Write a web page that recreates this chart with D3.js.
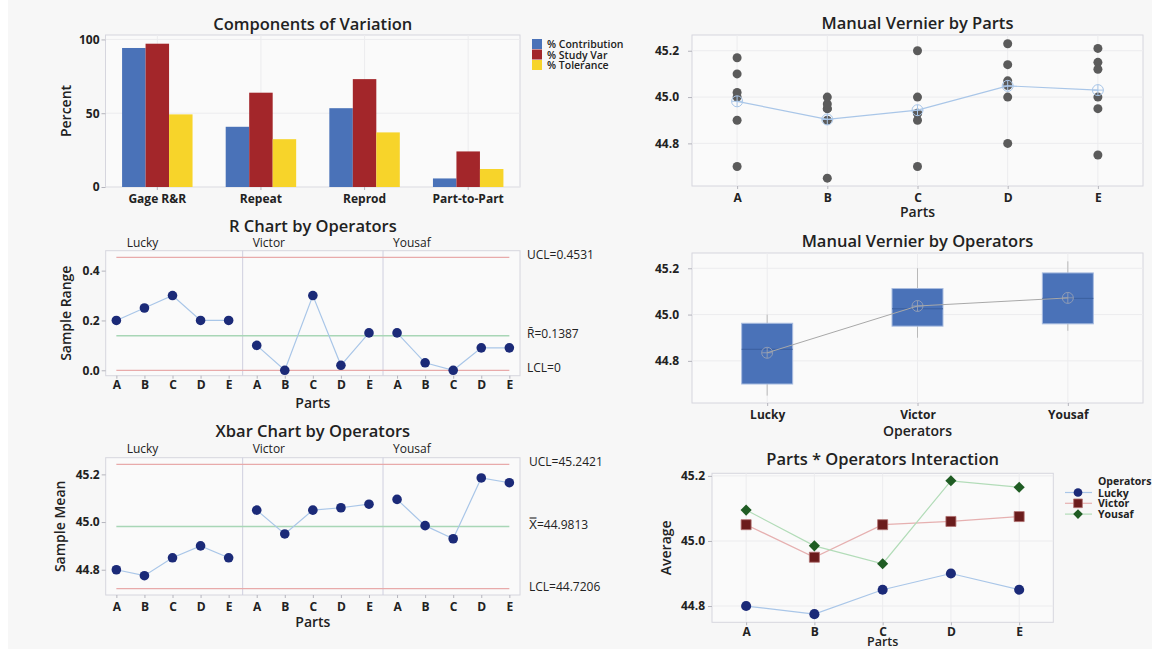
<!DOCTYPE html>
<html>
<head>
<meta charset="utf-8">
<script src="https://cdn.jsdelivr.net/npm/d3@7"></script>
<style>
body { margin: 0; background: #fff; }
svg { display: block; font-family: "Open Sans", sans-serif; }
.axis text { font-family: "Open Sans", sans-serif; font-size: 12px; font-weight: 700; fill: #222; }
.axis line { stroke: #b4b4bc; }
.axis path { display: none; }
.title { font-size: 16.5px; font-weight: 600; fill: #222; text-anchor: middle; }
.axtitle { font-size: 14px; font-weight: 600; fill: #222; text-anchor: middle; }
.lbl { font-size: 12px; fill: #222; }
.leg { font-size: 10.5px; font-weight: 600; fill: #222; }
.leg6 { font-size: 10.5px; font-weight: 700; fill: #222; }
</style>
</head>
<body>
<div id="chart"></div>
<script>
var parts = ["A", "B", "C", "D", "E"];
var operators = ["Lucky", "Victor", "Yousaf"];

// Components of variation
var components = ["Gage R&R", "Repeat", "Reprod", "Part-to-Part"];
var seriesNames = ["% Contribution", "% Study Var", "% Tolerance"];
var pctContribution = [94.2, 40.8, 53.4, 5.8];
var pctStudyVar = [97.1, 63.9, 73.1, 24.1];
var pctTolerance = [49.2, 32.4, 37.0, 12.2];

// measurements, 2 trials per operator, one value per part A..E
var luckyTrial1  = [44.70, 44.65, 44.70, 44.80, 44.75];
var luckyTrial2  = [44.90, 44.90, 45.00, 45.00, 44.95];
var victorTrial1 = [45.00, 44.95, 44.90, 45.05, 45.00];
var victorTrial2 = [45.10, 44.95, 45.20, 45.07, 45.15];
var yousafTrial1 = [45.02, 44.97, 44.93, 45.14, 45.12];
var yousafTrial2 = [45.17, 45.00, 44.93, 45.23, 45.21];

// control limits
var rLimits = [0.4531, 0.1387, 0];
var rLimitLabels = ["UCL=0.4531", "R\u0304=0.1387", "LCL=0"];
var xbarLimits = [45.2421, 44.9813, 44.7206];
var xbarLimitLabels = ["UCL=45.2421", "X\u033F=44.9813", "LCL=44.7206"];

// tick labels
var percentTicks = [0, 50, 100];
var rangeTicks = [0, 0.2, 0.4];
var meanTicks = [44.8, 45.0, 45.2];

var barColors = ["#4a72b8", "#a3262a", "#f7d42a"];
var opColors = ["#1b2a78", "#6b1c1c", "#1f5c23"];
var opLineColors = ["#a9c6e8", "#e6b0b0", "#b2dcb8"];
var limitColors = ["#e8aaaa", "#a8d6b6", "#e8aaaa"];

var w = 1152, h = 650;

var svg = d3.select("#chart").append("svg")
    .attr("width", w)
    .attr("height", h);

svg.append("rect").attr("x", 8).attr("y", 0)
    .attr("width", w - 8).attr("height", 649)
    .attr("fill", "#f7f7f7");

// build subgroups (operator-major, 15 of them)
var trials = [[luckyTrial1, luckyTrial2], [victorTrial1, victorTrial2], [yousafTrial1, yousafTrial2]];
var subgroups = [];
operators.forEach(function(op, i) {
    parts.forEach(function(p, j) {
        var a = trials[i][0][j], b = trials[i][1][j];
        subgroups.push({op: op, oi: i, part: p, pi: j, idx: i * 5 + j,
            vals: [a, b], mean: (a + b) / 2, range: Math.abs(b - a)});
    });
});

function frame(p) {
    svg.append("rect")
        .attr("x", p.l).attr("y", p.t)
        .attr("width", p.r - p.l).attr("height", p.b - p.t)
        .attr("fill", "#fafafa")
        .attr("stroke", "#d6d6de");
}

function title(text, x, y) {
    svg.append("text").attr("class", "title").attr("x", x).attr("y", y).text(text);
}

function axTitle(text, x, y, rotate) {
    var t = svg.append("text").attr("class", "axtitle").text(text);
    if (rotate) t.attr("transform", "translate(" + x + "," + y + ") rotate(-90)");
    else t.attr("x", x).attr("y", y);
    return t;
}

function hGrid(p, y, ticks) {
    svg.append("g").selectAll("line").data(ticks).enter().append("line")
        .attr("x1", p.l).attr("x2", p.r)
        .attr("y1", function(d) { return y(d); })
        .attr("y2", function(d) { return y(d); })
        .attr("stroke", "#ececee");
}

function vGrid(p, xs) {
    svg.append("g").selectAll("line").data(xs).enter().append("line")
        .attr("x1", function(d) { return d; }).attr("x2", function(d) { return d; })
        .attr("y1", p.t).attr("y2", p.b)
        .attr("stroke", "#ececee");
}

function meanSymbol(g, x, y, color) {
    g.append("circle").attr("cx", x).attr("cy", y).attr("r", 5.5)
        .attr("fill", "none").attr("stroke", color);
    g.append("line").attr("x1", x - 5.5).attr("x2", x + 5.5).attr("y1", y).attr("y2", y).attr("stroke", color);
    g.append("line").attr("x1", x).attr("x2", x).attr("y1", y - 5.5).attr("y2", y + 5.5).attr("stroke", color);
}

// ---------- Components of Variation ----------
var p1 = {l: 105.5, r: 520, t: 35, b: 187};
frame(p1);
var xBand = d3.scaleBand().domain(components).range([p1.l, p1.r]).paddingInner(0.32).paddingOuter(0.16);
var xSub = d3.scaleBand().domain(seriesNames).range([0, xBand.bandwidth()]);
var yPct = d3.scaleLinear().domain([0, 103]).range([p1.b, p1.t]);
hGrid(p1, yPct, percentTicks);
vGrid(p1, components.map(function(c) { return xBand(c) + xBand.bandwidth() / 2; }));

var barSeries = [pctContribution, pctStudyVar, pctTolerance];
var groups = svg.append("g").selectAll("g").data(components).enter().append("g")
    .attr("transform", function(d) { return "translate(" + xBand(d) + ",0)"; });
groups.selectAll("rect")
    .data(function(d, i) { return barSeries.map(function(s, k) { return {name: seriesNames[k], value: s[i], k: k}; }); })
    .enter().append("rect")
    .attr("x", function(d) { return xSub(d.name); })
    .attr("width", xSub.bandwidth())
    .attr("y", function(d) { return yPct(d.value); })
    .attr("height", function(d) { return p1.b - yPct(d.value); })
    .attr("fill", function(d) { return barColors[d.k]; });

svg.append("g").attr("class", "axis")
    .attr("transform", "translate(" + p1.l + ",0)")
    .call(d3.axisLeft(yPct).tickValues(percentTicks).tickSize(4).tickPadding(2).tickFormat(d3.format("d")));
svg.append("g").attr("class", "axis")
    .attr("transform", "translate(0," + p1.b + ")")
    .call(d3.axisBottom(xBand).tickSize(3).tickPadding(4));
title("Components of Variation", (p1.l + p1.r) / 2, 30);
axTitle("Percent", 71, 111, true);

var legend = svg.append("g").selectAll("g").data(seriesNames).enter().append("g")
    .attr("transform", function(d, i) { return "translate(532," + (39 + i * 10.5) + ")"; });
legend.append("rect").attr("width", 10).attr("height", 10)
    .attr("fill", function(d, i) { return barColors[i]; });
legend.append("text").attr("class", "leg").attr("x", 15).attr("y", 9).text(function(d) { return d; });

// ---------- Manual Vernier by Parts ----------
var p2 = {l: 692, r: 1143, t: 35, b: 186};
frame(p2);
var xPart2 = d3.scalePoint().domain(parts).range([p2.l, p2.r]).padding(0.5);
var yMeas2 = d3.scaleLinear().domain([44.616, 45.268]).range([p2.b, p2.t]);
hGrid(p2, yMeas2, meanTicks);
vGrid(p2, parts.map(function(p) { return xPart2(p); }));

var allPoints = [];
subgroups.forEach(function(s) {
    s.vals.forEach(function(v) { allPoints.push({part: s.part, value: v}); });
});
svg.append("g").selectAll("circle").data(allPoints).enter().append("circle")
    .attr("cx", function(d) { return xPart2(d.part); })
    .attr("cy", function(d) { return yMeas2(d.value); })
    .attr("r", 4.5)
    .attr("fill", "#5b5b5b");

var partMeans = parts.map(function(p) {
    return {part: p, value: d3.mean(allPoints.filter(function(d) { return d.part === p; }), function(d) { return d.value; })};
});
svg.append("path").datum(partMeans)
    .attr("fill", "none").attr("stroke", "#a9c6e8").attr("stroke-width", 1.2)
    .attr("d", d3.line().x(function(d) { return xPart2(d.part); }).y(function(d) { return yMeas2(d.value); }));
var g2 = svg.append("g");
partMeans.forEach(function(d) { meanSymbol(g2, xPart2(d.part), yMeas2(d.value), "#a9c6e8"); });

svg.append("g").attr("class", "axis")
    .attr("transform", "translate(" + p2.l + ",0)")
    .call(d3.axisLeft(yMeas2).tickValues(meanTicks).tickSize(4).tickPadding(9).tickFormat(d3.format(".1f")));
svg.append("g").attr("class", "axis")
    .attr("transform", "translate(0," + p2.b + ")")
    .call(d3.axisBottom(xPart2).tickSize(3).tickPadding(4));
title("Manual Vernier by Parts", (p2.l + p2.r) / 2, 29);
axTitle("Parts", (p2.l + p2.r) / 2, 217);

// ---------- control charts ----------
function controlChart(p, key, yDomain, ticks, fmt, limits, limitLabels, labelX, opLabelY, yTitle, yTitleX, xlabOffset, partsY) {
    frame(p);
    var x = d3.scaleLinear().domain([-0.38, 14.38]).range([p.l, p.r]);
    var y = d3.scaleLinear().domain(yDomain).range([p.b, p.t]);

    // dividers between operators
    svg.append("g").selectAll("line").data([4.5, 9.5]).enter().append("line")
        .attr("x1", function(d) { return x(d); }).attr("x2", function(d) { return x(d); })
        .attr("y1", p.t).attr("y2", p.b)
        .attr("stroke", "#cfcfdf");

    svg.append("g").selectAll("line").data(limits).enter().append("line")
        .attr("x1", x(0)).attr("x2", x(14))
        .attr("y1", function(d) { return y(d); }).attr("y2", function(d) { return y(d); })
        .attr("stroke", function(d, i) { return limitColors[i]; })
        .attr("stroke-width", 1.3);

    svg.append("g").selectAll("text").data(limits).enter().append("text")
        .attr("class", "lbl")
        .attr("x", labelX)
        .attr("y", function(d) { return y(d) + 2; })
        .text(function(d, i) { return limitLabels[i]; });

    var line = d3.line().x(function(d) { return x(d.idx); }).y(function(d) { return y(d[key]); });
    operators.forEach(function(op) {
        svg.append("path").datum(subgroups.filter(function(s) { return s.op === op; }))
            .attr("fill", "none").attr("stroke", "#a9c6e8").attr("stroke-width", 1.2)
            .attr("d", line);
    });
    svg.append("g").selectAll("circle").data(subgroups).enter().append("circle")
        .attr("cx", function(d) { return x(d.idx); })
        .attr("cy", function(d) { return y(d[key]); })
        .attr("r", 4.8)
        .attr("fill", "#1b2a78");

    var opLabelX = [p.l + 21, x(4.5) + 10, x(9.5) + 10];
    svg.append("g").selectAll("text").data(operators).enter().append("text")
        .attr("class", "lbl")
        .attr("x", function(d, i) { return opLabelX[i]; })
        .attr("y", opLabelY)
        .text(function(d) { return d; });

    svg.append("g").attr("class", "axis")
        .attr("transform", "translate(" + p.l + ",0)")
        .call(d3.axisLeft(y).tickValues(ticks).tickSize(4).tickPadding(2).tickFormat(d3.format(fmt)));
    svg.append("g").attr("class", "axis")
        .attr("transform", "translate(0," + p.b + ")")
        .call(d3.axisBottom(x).tickValues(d3.range(15)).tickSize(3).tickPadding(xlabOffset)
            .tickFormat(function(i) { return parts[i % 5]; }));
    axTitle(yTitle, yTitleX, (p.t + p.b) / 2, true);
    axTitle("Parts", (p.l + p.r) / 2, partsY);
}

var p3 = {l: 105.7, r: 520, t: 250.7, b: 375.7};
controlChart(p3, "range", [-0.0217, 0.480], rangeTicks, ".1f", rLimits, rLimitLabels, 527, 247,
    "Sample Range", 71, 2, 408);
title("R Chart by Operators", (p3.l + p3.r) / 2, 232);

var p5 = {l: 105.7, r: 520, t: 457.7, b: 595};
controlChart(p5, "mean", [44.694, 45.270], meanTicks, ".1f", xbarLimits, xbarLimitLabels, 529, 453,
    "Sample Mean", 65, 4.5, 627);
title("Xbar Chart by Operators", (p5.l + p5.r) / 2, 437);

// ---------- Manual Vernier by Operators ----------
var p4 = {l: 692, r: 1143, t: 253, b: 403};
frame(p4);
var xOp = d3.scalePoint().domain(operators).range([p4.l, p4.r]).padding(0.5);
var yMeas4 = d3.scaleLinear().domain([44.618, 45.266]).range([p4.b, p4.t]);
hGrid(p4, yMeas4, meanTicks);
vGrid(p4, operators.map(function(o) { return xOp(o); }));

// quartiles the way Minitab does them: position (n + 1) * p
function mtbQuantile(sorted, q) {
    var pos = (sorted.length + 1) * q;
    var lo = Math.floor(pos);
    if (lo < 1) return sorted[0];
    if (lo >= sorted.length) return sorted[sorted.length - 1];
    return sorted[lo - 1] + (pos - lo) * (sorted[lo] - sorted[lo - 1]);
}

var boxes = operators.map(function(op) {
    var v = [];
    subgroups.filter(function(s) { return s.op === op; }).forEach(function(s) { v = v.concat(s.vals); });
    v.sort(d3.ascending);
    var q1 = mtbQuantile(v, 0.25), q3 = mtbQuantile(v, 0.75), iqr = q3 - q1;
    var inside = v.filter(function(d) { return d >= q1 - 1.5 * iqr && d <= q3 + 1.5 * iqr; });
    return {op: op, q1: q1, q3: q3, med: mtbQuantile(v, 0.5), mean: d3.mean(v),
        lo: d3.min(inside), hi: d3.max(inside)};
});
var boxW = 51;
var bx = svg.append("g");
bx.selectAll(".whisker").data(boxes).enter().append("line")
    .attr("x1", function(d) { return xOp(d.op); }).attr("x2", function(d) { return xOp(d.op); })
    .attr("y1", function(d) { return yMeas4(d.lo); }).attr("y2", function(d) { return yMeas4(d.hi); })
    .attr("stroke", "#b9b9b9");
bx.selectAll(".box").data(boxes).enter().append("rect")
    .attr("x", function(d) { return xOp(d.op) - boxW / 2; })
    .attr("width", boxW)
    .attr("y", function(d) { return yMeas4(d.q3); })
    .attr("height", function(d) { return yMeas4(d.q1) - yMeas4(d.q3); })
    .attr("fill", "#4a72b8")
    .attr("stroke", "#a9bde0");
bx.selectAll(".median").data(boxes).enter().append("line")
    .attr("x1", function(d) { return xOp(d.op) - boxW / 2; }).attr("x2", function(d) { return xOp(d.op) + boxW / 2; })
    .attr("y1", function(d) { return yMeas4(d.med); }).attr("y2", function(d) { return yMeas4(d.med); })
    .attr("stroke", "#3a5f9f");
svg.append("path").datum(boxes)
    .attr("fill", "none").attr("stroke", "#a8a8a8")
    .attr("d", d3.line().x(function(d) { return xOp(d.op); }).y(function(d) { return yMeas4(d.mean); }));
boxes.forEach(function(d) { meanSymbol(bx, xOp(d.op), yMeas4(d.mean), "#8e9bb5"); });

svg.append("g").attr("class", "axis")
    .attr("transform", "translate(" + p4.l + ",0)")
    .call(d3.axisLeft(yMeas4).tickValues(meanTicks).tickSize(4).tickPadding(9).tickFormat(d3.format(".1f")));
svg.append("g").attr("class", "axis")
    .attr("transform", "translate(0," + p4.b + ")")
    .call(d3.axisBottom(xOp).tickSize(3).tickPadding(4));
title("Manual Vernier by Operators", (p4.l + p4.r) / 2, 247);
axTitle("Operators", (p4.l + p4.r) / 2, 436);

// ---------- Parts * Operators Interaction ----------
var p6 = {l: 712, r: 1053.3, t: 473.3, b: 622.3};
frame(p6);
var xPart6 = d3.scalePoint().domain(parts).range([p6.l, p6.r]).padding(0.5);
var yAvg = d3.scaleLinear().domain([44.75, 45.208]).range([p6.b, p6.t]);
hGrid(p6, yAvg, meanTicks);
vGrid(p6, parts.map(function(p) { return xPart6(p); }));

var symbolTypes = [d3.symbolCircle, d3.symbolSquare, d3.symbolSquare];
var symbolSizes = [80, 100, 62];
var symbolRotate = [0, 0, 45];
function marker(g, i, x, y, scale) {
    g.append("path")
        .attr("d", d3.symbol().type(symbolTypes[i]).size(symbolSizes[i] * scale)())
        .attr("transform", "translate(" + x + "," + y + ") rotate(" + symbolRotate[i] + ")")
        .attr("fill", opColors[i])
        .attr("stroke", i === 1 ? "#b07070" : "none")
        .attr("stroke-width", 0.8);
}

operators.forEach(function(op, i) {
    var rows = subgroups.filter(function(s) { return s.op === op; });
    svg.append("path").datum(rows)
        .attr("fill", "none").attr("stroke", opLineColors[i]).attr("stroke-width", 1.2)
        .attr("d", d3.line().x(function(d) { return xPart6(d.part); }).y(function(d) { return yAvg(d.mean); }));
});
var g6 = svg.append("g");
operators.forEach(function(op, i) {
    subgroups.filter(function(s) { return s.op === op; }).forEach(function(d) {
        marker(g6, i, xPart6(d.part), yAvg(d.mean), 1);
    });
});

svg.append("g").attr("class", "axis")
    .attr("transform", "translate(" + p6.l + ",0)")
    .call(d3.axisLeft(yAvg).tickValues(meanTicks).tickSize(4).tickPadding(3).tickFormat(d3.format(".1f")));
svg.append("g").attr("class", "axis")
    .attr("transform", "translate(0," + p6.b + ")")
    .call(d3.axisBottom(xPart6).tickSize(3).tickPadding(2));
title("Parts * Operators Interaction", (p6.l + p6.r) / 2, 465);
axTitle("Average", 671, (p6.t + p6.b) / 2, true);
axTitle("Parts", (p6.l + p6.r) / 2, 646).style("font-size", "12.5px");

var leg6 = svg.append("g");
leg6.append("text").attr("class", "leg6").attr("x", 1098).attr("y", 485).text("Operators");
operators.forEach(function(op, i) {
    var yy = 492.5 + i * 10.8;
    leg6.append("line").attr("x1", 1065).attr("x2", 1092).attr("y1", yy).attr("y2", yy)
        .attr("stroke", opLineColors[i]).attr("stroke-width", 1.2);
    marker(leg6, i, 1078, yy, 0.75);
    leg6.append("text").attr("class", "leg6").attr("x", 1098).attr("y", yy + 4).text(op);
});
</script>
</body>
</html>
